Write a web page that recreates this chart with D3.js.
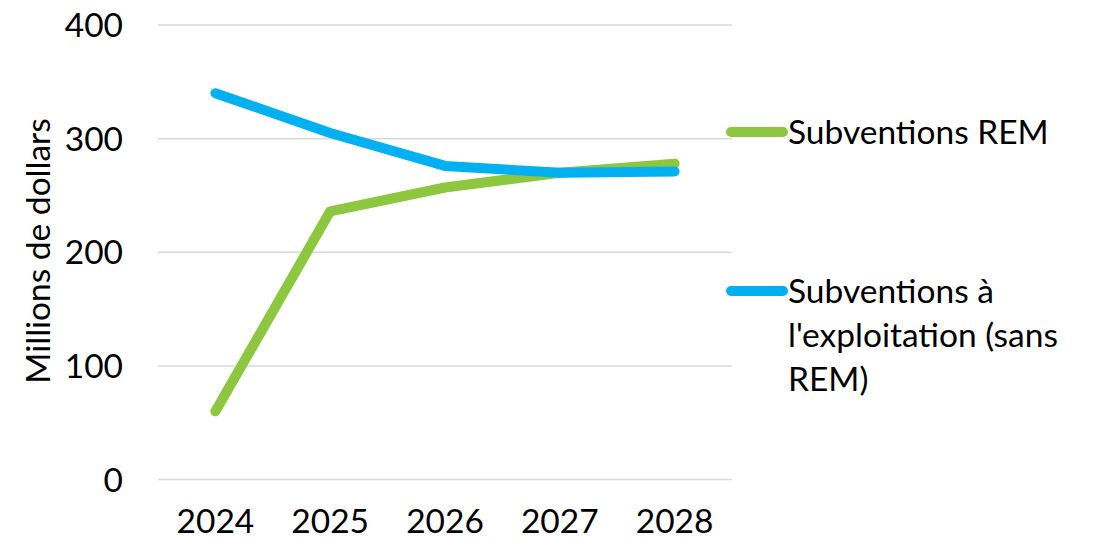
<!DOCTYPE html>
<html>
<head>
<meta charset="utf-8">
<script src="https://cdn.jsdelivr.net/npm/d3@7"></script>
<style>
  html, body { margin: 0; padding: 0; background: #fff; }
  text { font-family: Lato, "Open Sans", sans-serif; fill: #000; }
</style>
</head>
<body>
<div id="canvas"></div>
<script>
"use strict"

// data
let years = ["2024", "2025", "2026", "2027", "2028"];
let remValues = [60, 236, 257, 270, 278];
let exploitValues = [340, 305, 276, 270, 271];
let yTicks = [0, 100, 200, 300, 400];
let seriesNames = ["Subventions REM", "Subventions à l'exploitation (sans REM)"];
let legendLines = [["Subventions REM"], ["Subventions à", "l'exploitation (sans", "REM)"]];
let colors = ["#8DC63F", "#00B0F0"];

let width = 1102, height = 541;
let plotLeft = 158, plotRight = 732, plotTop = 25, plotBottom = 479.5;
let fontSize = 33.5;

let drawing = d3.select("#canvas")
    .append("svg")
    .attr("width", width)
    .attr("height", height);

let x = d3.scaleBand().domain(years).range([plotLeft, plotRight]);
let y = d3.scaleLinear().domain([0, 400]).range([plotBottom, plotTop]);

// gridlines
drawing.append("g")
    .selectAll("line")
    .data(yTicks)
    .join("line")
    .attr("x1", plotLeft)
    .attr("x2", plotRight)
    .attr("y1", d => y(d))
    .attr("y2", d => y(d))
    .attr("stroke", "#d9d9d9")
    .attr("stroke-width", 1.5);

// y tick labels
drawing.append("g")
    .selectAll("text")
    .data(yTicks)
    .join("text")
    .attr("x", 123)
    .attr("y", d => y(d))
    .attr("dy", "0.36em")
    .attr("text-anchor", "end")
    .attr("font-size", fontSize)
    .text(d => d);

// x tick labels
drawing.append("g")
    .selectAll("text")
    .data(years)
    .join("text")
    .attr("x", d => x(d) + x.bandwidth() / 2)
    .attr("y", 533)
    .attr("text-anchor", "middle")
    .attr("font-size", fontSize)
    .text(d => d);

// axis title
drawing.append("text")
    .attr("transform", "translate(50,251) rotate(-90)")
    .attr("text-anchor", "middle")
    .attr("font-size", fontSize)
    .text("Millions de dollars");

// lines
let line = d3.line()
    .x((d, i) => x(years[i]) + x.bandwidth() / 2)
    .y(d => y(d));

[remValues, exploitValues].forEach((vals, i) => {
    drawing.append("path")
        .datum(vals)
        .attr("d", line)
        .attr("fill", "none")
        .attr("stroke", colors[i])
        .attr("stroke-width", 10)
        .attr("stroke-linecap", "round")
        .attr("stroke-linejoin", "round");
});

// legend
let legendY = [132, 291];
legendLines.forEach((lines, i) => {
    let g = drawing.append("g");
    g.append("line")
        .attr("x1", 731)
        .attr("x2", 783)
        .attr("y1", legendY[i])
        .attr("y2", legendY[i])
        .attr("stroke", colors[i])
        .attr("stroke-width", 10)
        .attr("stroke-linecap", "round");
    g.append("text")
        .attr("x", 788)
        .attr("y", legendY[i] + 12)
        .attr("font-size", fontSize)
        .selectAll("tspan")
        .data(lines)
        .join("tspan")
        .attr("x", 788)
        .attr("dy", (d, j) => j == 0 ? 0 : 44)
        .text(d => d);
});
</script>
</body>
</html>
